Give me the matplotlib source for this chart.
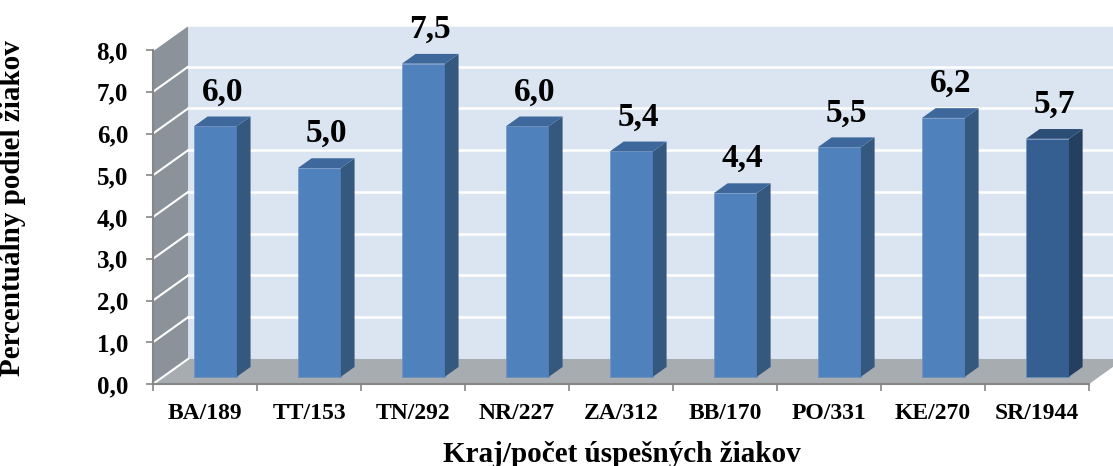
import matplotlib.pyplot as plt
from matplotlib.patches import Polygon, Rectangle

# data
regions = ['BA/189', 'TT/153', 'TN/292', 'NR/227', 'ZA/312', 'BB/170', 'PO/331', 'KE/270', 'SR/1944']
values = [6.0, 5.0, 7.5, 6.0, 5.4, 4.4, 5.5, 6.2, 5.7]
value_labels = ['6,0', '5,0', '7,5', '6,0', '5,4', '4,4', '5,5', '6,2', '5,7']
yticks = [0, 1, 2, 3, 4, 5, 6, 7, 8]
ytick_labels = ['0,0', '1,0', '2,0', '3,0', '4,0', '5,0', '6,0', '7,0', '8,0']

plt.rcParams['font.family'] = ['Liberation Serif', 'DejaVu Serif']
plt.rcParams['font.weight'] = 'bold'

fig = plt.figure(figsize=(11.13, 4.66), dpi=100)
ax = fig.add_axes([153 / 1113, 82 / 466, 960 / 1113, 364 / 466])
ax.set_xlim(-0.5, 8.73)
ax.set_ylim(0, 8.72)

# 3D depth offset (data units)
dx, dy = 0.337, 0.6
x0, x1, ytop = -0.5, 8.5, 8

wall_c = '#dbe5f1'
side_c = '#8c9299'
floor_c = '#a7acb1'

# back wall
ax.add_patch(Rectangle((x0 + dx, dy), 10, ytop, facecolor=wall_c, edgecolor='none', zorder=0))
# side wall
ax.add_patch(Polygon([(x0, 0), (x0 + dx, dy), (x0 + dx, ytop + dy), (x0, ytop)],
                     facecolor=side_c, edgecolor='none', zorder=1))
# gridlines
for k in yticks[1:]:
    ax.plot([x0 + dx, 10], [k + dy, k + dy], color='white', lw=1.8, zorder=1)
    ax.plot([x0, x0 + dx], [k, k + dy], color='white', lw=1.5, zorder=2)
# floor
ax.add_patch(Polygon([(x0, 0), (x1, 0), (x1 + dx, dy), (x0 + dx, dy)],
                     facecolor=floor_c, edgecolor='none', zorder=2))
ax.plot([x0, x0 + dx], [0, dy], color='white', lw=1.5, zorder=2)

# bars
w = 0.413
f0, f1 = 0.29, 0.68
for i, v in enumerate(values):
    if i == len(values) - 1:
        front, side, top = '#355f91', '#243f60', '#2c4d76'
    else:
        front, side, top = '#4f81bd', '#35587f', '#3e689b'
    left = i + 0.1 - w / 2
    bot = f0 * dy
    ddx, ddy = (f1 - f0) * dx, (f1 - f0) * dy
    ax.add_patch(Rectangle((left, bot), w, v, facecolor=front, edgecolor='#6d8fbf', lw=0.4, zorder=5))
    ax.add_patch(Polygon([(left + w, bot), (left + w + ddx, bot + ddy),
                          (left + w + ddx, bot + v + ddy), (left + w, bot + v)],
                         facecolor=side, edgecolor='none', zorder=5))
    ax.add_patch(Polygon([(left, bot + v), (left + w, bot + v),
                          (left + w + ddx, bot + v + ddy), (left + ddx, bot + v + ddy)],
                         facecolor=top, edgecolor='none', zorder=5))
    ax.text(left + w / 2 + ddx / 2, bot + v + 0.62, value_labels[i], ha='center', va='baseline',
            fontsize=24, fontweight='bold', zorder=6)

# axes lines
for s in ['top', 'right']:
    ax.spines[s].set_visible(False)
ax.spines['left'].set_bounds(0, 8)
ax.spines['bottom'].set_bounds(x0, x1)
for s in ['left', 'bottom']:
    ax.spines[s].set_color('#868686')
    ax.spines[s].set_linewidth(1.5)
    ax.spines[s].set_zorder(3)

ax.set_yticks(yticks)
ax.set_yticklabels(ytick_labels, fontsize=18, fontweight='bold')
ax.tick_params(axis='y', length=5, width=1.2, color='#868686', pad=13)
ax.set_xticks([x0 + k for k in range(10)])
ax.set_xticklabels([])
ax.tick_params(axis='x', which='major', length=5, width=1.2, color='#868686')
ax.set_xticks(range(len(regions)), minor=True)
ax.set_xticklabels(regions, minor=True, fontsize=17, fontweight='bold')
ax.tick_params(axis='x', which='minor', length=0, pad=14)

ax.set_xlabel('Kraj/počet úspešných žiakov', fontsize=21, fontweight='bold')
ax.xaxis.set_label_coords((622 - 153) / 960, -(462 - 384) / 364)
ax.xaxis.label.set_va('baseline')
ax.set_ylabel('Percentuálny podiel žiakov', fontsize=21, fontweight='bold')
ax.yaxis.set_label_coords(-(153 - 26) / 960, (384 - 208) / 364)

fig.savefig('out.png', dpi=100)
